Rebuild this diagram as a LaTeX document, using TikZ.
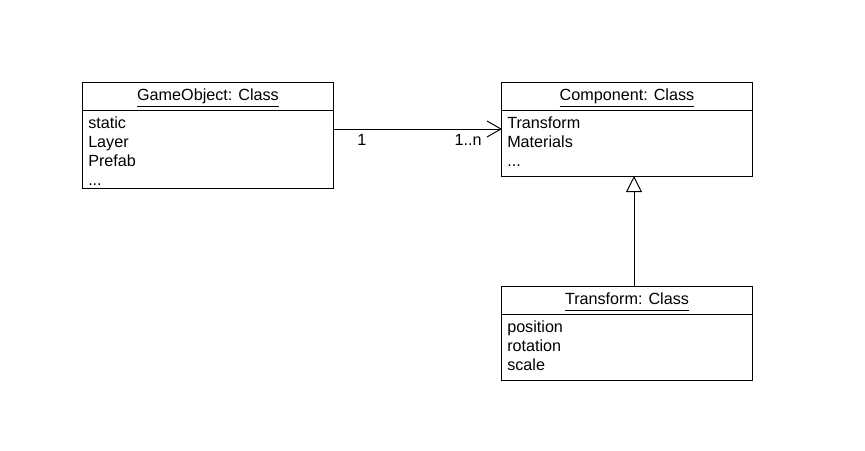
\documentclass[tikz,border=0pt]{standalone}
\usepackage{fontspec}
\setmainfont{Liberation Sans}
\usetikzlibrary{arrows.meta, positioning}

\newcommand{\clsname}[1]{\underline{\smash{#1}\vphantom{Ag}}}

\tikzset{
  classhead/.style={draw, line width=0.7pt, minimum width=6.25cm, minimum height=0.7cm, text height=11pt, outer sep=0pt, inner sep=0pt},
  classbody/.style={draw, line width=0.7pt, minimum width=6.25cm, outer sep=0pt, inner sep=0pt},
  attrs/.style={align=left, inner sep=0pt},
  assoc/.style={line width=0.7pt, -{Straight Barb[length=0.35cm, width=0.4cm]}},
  inherit/.style={line width=0.7pt, -{Triangle[open, length=0.4cm, width=0.4cm, fill=white]}},
}

\begin{document}
\begin{tikzpicture}[x=0.025cm, y=-0.025cm, font=\fontsize{11.5}{13.5}\selectfont]
  \useasboundingbox (0,0) rectangle (865,451);

  % GameObject
  \node[classhead] (gohead) at (208,96) {\clsname{GameObject: Class}};
  \node[classbody, minimum height=1.95cm, below=0pt of gohead] (gobody) {};
  \node[attrs, below right=0.16cm and 0.125cm of gobody.north west] (goattrs) {static\\Layer\\Prefab\\...};

  % Component
  \node[classhead] (comphead) at (627,96) {\clsname{Component: Class}};
  \node[classbody, minimum height=1.65cm, below=0pt of comphead] (compbody) {};
  \node[attrs, below right=0.16cm and 0.125cm of compbody.north west] (compattrs) {Transform\\Materials\\...};

  % Transform
  \node[classhead] (trhead) at (627,300) {\clsname{Transform: Class}};
  \node[classbody, minimum height=1.65cm, below=0pt of trhead] (trbody) {};
  \node[attrs, below right=0.16cm and 0.125cm of trbody.north west] (trattrs) {position\\rotation\\scale};

  % Relations
  \draw[assoc] ([yshift=-0.475cm]gobody.north east) -- node[pos=0.17, below] (onelbl) {1}
    node[pos=0.8, below] (manylbl) {1..n} ([yshift=-0.475cm]compbody.north west);
  \draw[inherit] ([xshift=0.175cm]trhead.north) -- ([xshift=0.175cm]compbody.south);
\end{tikzpicture}
\end{document}
